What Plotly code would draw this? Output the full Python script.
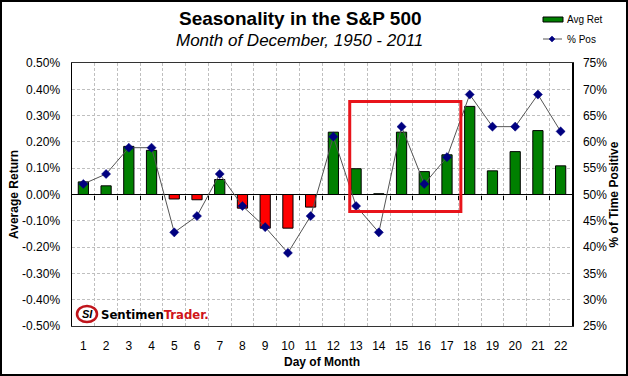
import plotly.graph_objects as go

days = list(range(1, 23))
avg_ret = [0.048, 0.033, 0.183, 0.168, -0.017, -0.020, 0.057, -0.052, -0.128, -0.128, -0.048,
           0.237, 0.098, 0.003, 0.237, 0.087, 0.151, 0.335, 0.090, 0.163, 0.243, 0.109]
pct_pos = [52.0, 53.9, 58.9, 58.9, 42.8, 45.9, 53.9, 47.8, 43.8, 38.9, 45.9,
           61.0, 47.8, 42.8, 62.9, 52.0, 57.1, 69.0, 62.9, 62.9, 69.0, 62.0]
left_ticks = [-0.5, -0.4, -0.3, -0.2, -0.1, 0.0, 0.1, 0.2, 0.3, 0.4, 0.5]
right_ticks = [25, 30, 35, 40, 45, 50, 55, 60, 65, 70, 75]

bar_colors = ["#008000" if v >= 0 else "#FF0000" for v in avg_ret]

L, R, T, B = 72, 572, 63, 326
W, H = R - L, B - T
def px(x):
    return (x - L) / W
def py(y):
    return (B - y) / H

fig = go.Figure()
fig.add_trace(go.Bar(x=days, y=avg_ret, name="Avg Ret", width=0.45,
                     marker=dict(color=bar_colors, line=dict(color="black", width=1)),
                     showlegend=False))
fig.add_trace(go.Scatter(x=days, y=pct_pos, name="% Pos", yaxis="y2", mode="lines+markers",
                         line=dict(color="#555555", width=1),
                         marker=dict(symbol="diamond", size=7, color="#000080",
                                     line=dict(color="#000080", width=0.5)),
                         showlegend=False))

FONT = "Liberation Sans, Arial, sans-serif"
GRID = "#BFBFBF"
fig.update_layout(
    width=628, height=376,
    margin=dict(l=L, r=628 - R, t=T, b=376 - B, autoexpand=False),
    paper_bgcolor="white", plot_bgcolor="white",
    font=dict(family=FONT, size=12, color="black"),
    showlegend=False,
    xaxis=dict(range=[0.5, 22.5], tickvals=days, ticktext=[str(d) for d in days],
               showgrid=False, zeroline=False, showline=True, linecolor="#333333", linewidth=1,
               mirror=True, ticks="outside", ticklen=9, tickcolor="rgba(0,0,0,0)",
               minor=dict(tick0=0.5, dtick=1, showgrid=True, gridcolor=GRID,
                          griddash="3px,2px", gridwidth=1, ticks=""),
               title=dict(text="<b>Day of Month</b>", font=dict(size=12), standoff=5)),
    xaxis2=dict(range=[0.5, 22.5], overlaying="x", anchor="free", position=0.5,
                tickvals=[d + 0.5 for d in days[:-1]], showticklabels=False,
                ticks="outside", ticklen=4, tickcolor="black", tickwidth=1,
                showline=False, showgrid=False, zeroline=False),
    yaxis=dict(range=[-0.5, 0.5], tickvals=left_ticks,
               ticktext=[f"{v:.2f}%" for v in left_ticks],
               showgrid=True, gridcolor=GRID, griddash="3px,2px", gridwidth=1,
               zeroline=True, zerolinecolor="black", zerolinewidth=1.5,
               showline=True, linecolor="black", linewidth=1.5,
               ticks="outside", ticklen=8, tickcolor="rgba(0,0,0,0)",
               title=dict(text="<b>Average Return</b>", font=dict(size=12), standoff=1)),
    yaxis2=dict(range=[25, 75], tickvals=right_ticks, ticktext=[f"{v}%" for v in right_ticks],
                overlaying="y", side="right",
                showgrid=False, zeroline=False, showline=True, linecolor="black", linewidth=1.5,
                ticks="outside", ticklen=7, tickcolor="rgba(0,0,0,0)",
                title=dict(text="<b>% of Time Positive</b>", font=dict(size=12), standoff=0)),
)

# dummy trace to activate xaxis2 ticks on the zero line
fig.add_trace(go.Scatter(x=[None], y=[None], xaxis="x2", showlegend=False, hoverinfo="skip"))

# title and subtitle
fig.add_annotation(text="<b>Seasonality in the S&P 500</b>", xref="paper", yref="paper",
                   x=px(300), y=py(19), showarrow=False,
                   font=dict(size=19, family=FONT), xanchor="center", yanchor="middle")
fig.add_annotation(text="<i>Month of December, 1950 - 2011</i>", xref="paper", yref="paper",
                   x=px(299), y=py(40), showarrow=False,
                   font=dict(size=17, family=FONT), xanchor="center", yanchor="middle")

# legend (manual)
fig.add_shape(type="rect", xref="paper", yref="paper", x0=px(543), x1=px(563), y0=py(22), y1=py(17),
              fillcolor="#008000", line=dict(color="black", width=1))
fig.add_annotation(text="Avg Ret", xref="paper", yref="paper", x=px(565), y=py(19.5),
                   showarrow=False, xanchor="left", yanchor="middle", font=dict(size=10))
fig.add_shape(type="line", xref="paper", yref="paper", x0=px(543), x1=px(562), y0=py(39), y1=py(39),
              line=dict(color="#555555", width=1))
fig.add_shape(type="path", xref="paper", yref="paper",
              path=f"M {px(549)},{py(39)} L {px(552)},{py(36)} L {px(555)},{py(39)} L {px(552)},{py(42)} Z",
              fillcolor="#000080", line=dict(color="#000080", width=0.5))
fig.add_annotation(text="% Pos", xref="paper", yref="paper", x=px(565), y=py(39.5),
                   showarrow=False, xanchor="left", yanchor="middle", font=dict(size=10))

# highlight rectangle
fig.add_shape(type="rect", xref="x", yref="y", x0=12.72, x1=17.61, y0=-0.065, y1=0.354,
              line=dict(color="#E8141B", width=3))

# outer frame
fig.add_shape(type="rect", xref="paper", yref="paper",
              x0=px(1), x1=px(627), y0=py(375), y1=py(1),
              line=dict(color="black", width=2))

# logo
fig.add_shape(type="circle", xref="paper", yref="paper",
              x0=px(77), x1=px(97), y0=py(322), y1=py(306),
              line=dict(color="#C0141B", width=2.5), fillcolor="white")
fig.add_annotation(text="<b><i>SI</i></b>", xref="paper", yref="paper",
                   x=px(87), y=py(314), showarrow=False,
                   font=dict(size=11, family=FONT, color="black"), xanchor="center", yanchor="middle")
fig.add_annotation(text="<b>Sentimen</b><b><span style='color:#D01418'>Trader.</span></b>",
                   xref="paper", yref="paper",
                   x=px(99), y=py(314), showarrow=False,
                   font=dict(size=13, family="DejaVu Sans Condensed, Liberation Sans Narrow, " + FONT),
                   xanchor="left", yanchor="middle")

fig.write_html("out.html", config={"displayModeBar": False, "staticPlot": True},
               post_script="document.body.style.margin='0';document.body.style.overflow='hidden';")
